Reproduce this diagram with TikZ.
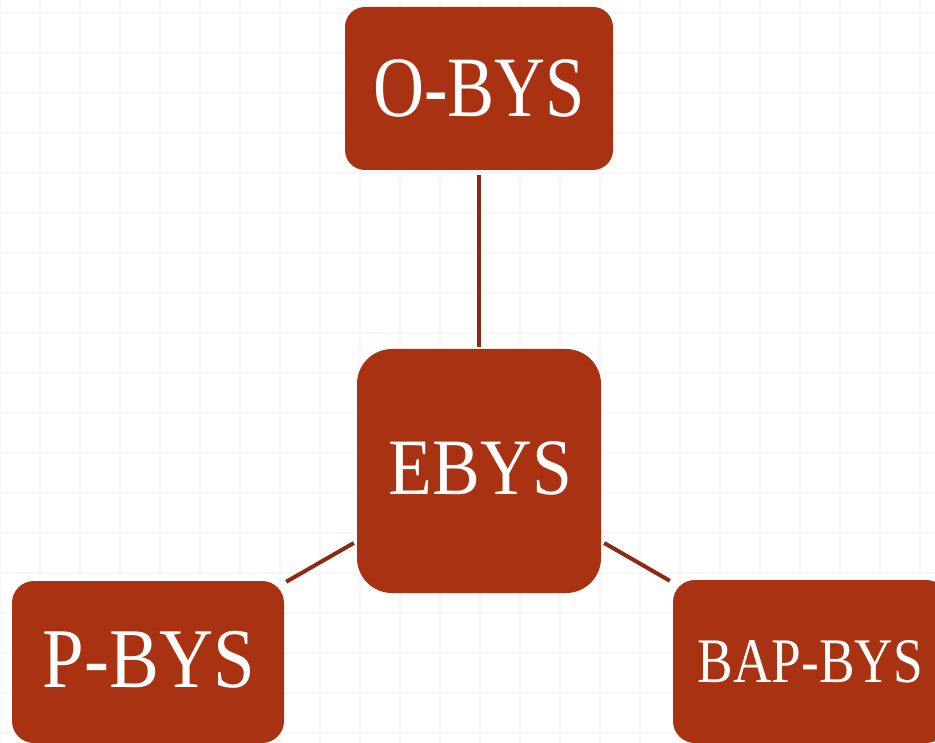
\documentclass[tikz,border=0pt]{standalone}
\usepackage{fontspec}
\usepackage{graphicx}
\setmainfont{Liberation Serif}
\usetikzlibrary{calc}
\definecolor{boxred}{HTML}{A83212}
\definecolor{linered}{HTML}{8E2A12}
\definecolor{gridc}{HTML}{F6F6F6}
\newcommand{\lbl}[3]{\scalebox{#2}[1]{\fontsize{#1}{#1}\selectfont #3}}
\tikzset{
  sysbox/.style={fill=boxred, draw=none, text=white, inner sep=0pt, align=center},
  link/.style={draw=linered, line width=4pt}
}
\begin{document}
\begin{tikzpicture}[x=1pt,y=-1pt]
\useasboundingbox (0,0) rectangle (935,743);
\fill[white] (0,0) rectangle (935,743);
\foreach \i in {0,...,23} \draw[gridc, line width=1.3pt] (40*\i,0) -- (40*\i,743);
\foreach \j in {0,...,18} \draw[gridc, line width=1.3pt] (0,13+40*\j) -- (935,13+40*\j);
\node[sysbox, rounded corners=20pt, minimum width=268pt, minimum height=163pt] (O) at (479,88.5) {};
\node[sysbox, rounded corners=35pt, minimum width=244pt, minimum height=244pt] (E) at (479,471) {};
\node[sysbox, rounded corners=22pt, minimum width=272pt, minimum height=162pt] (P) at (148,662) {};
\node[sysbox, rounded corners=22pt, minimum width=275pt, minimum height=163pt] (B) at (810.5,661.5) {};
\node[text=white, inner sep=0pt] at (O.center) {\lbl{86pt}{0.82}{O-BYS}};
\node[text=white, inner sep=0pt] at ($(E.center)+(1.5,-3)$) {\lbl{80pt}{0.895}{EBYS}};
\node[text=white, inner sep=0pt] at ($(P.center)+(1,-2)$) {\lbl{85pt}{0.88}{P-BYS}};
\node[text=white, inner sep=0pt] at (B.center) {\lbl{63.5pt}{0.84}{BAP-BYS}};
\draw[link] ($(O.south)+(0,5)$) -- ($(E.north)+(0,-2)$);
\draw[link] ($(P.north east)+(2,1)$) -- ($(E.west)+(-3,72)$);
\draw[link] ($(E.east)+(3,72)$) -- ($(B.north west)+(-3,1)$);
\end{tikzpicture}
\end{document}
